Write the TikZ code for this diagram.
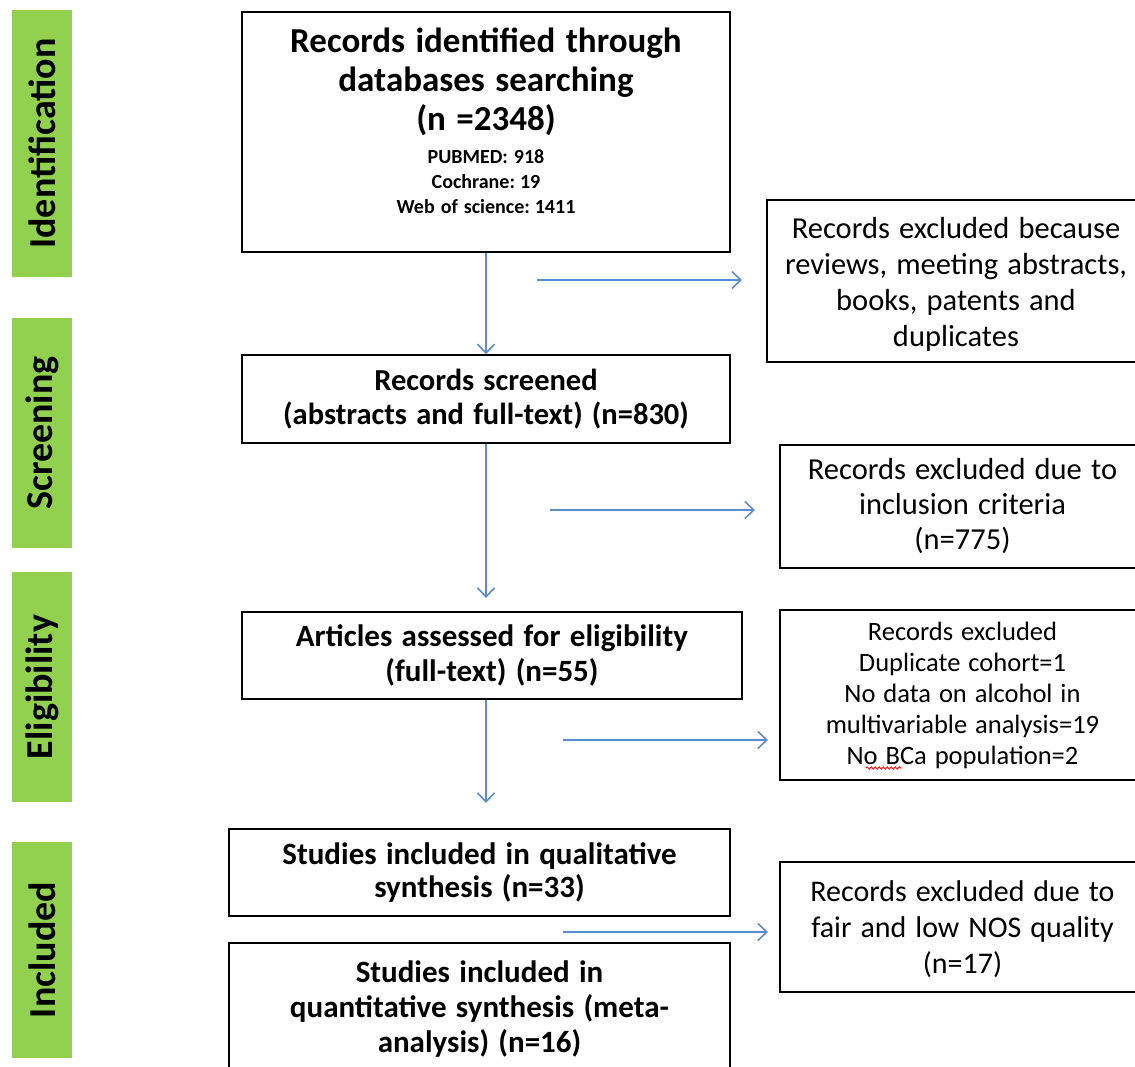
\documentclass[tikz,border=0pt]{standalone}
\usepackage{fontspec}
\setmainfont{Carlito}
\usetikzlibrary{arrows.meta, positioning, decorations.pathmorphing}

\definecolor{stagegreen}{HTML}{92D050}
\definecolor{flowblue}{HTML}{5B8BD0}

\newcommand\boxfont[2]{\fontsize{#1}{#2}\selectfont\spaceskip=0.3em\relax}

\tikzset{
  stage/.style={fill=stagegreen, rotate=90, minimum height=60pt, inner sep=0pt, font=\bfseries\fontsize{38}{42}\selectfont},
  flowbox/.style={draw, line width=1.5pt, align=center, inner sep=0pt, font=\bfseries},
  exclbox/.style={draw, line width=1.5pt, align=center, inner sep=0pt},
  flow/.style={draw=flowblue, line width=1.6pt, -{Straight Barb[length=9pt, width=17pt]}},
  spellwave/.style={draw=red, line width=0.8pt, decorate, decoration={snake, amplitude=1.2pt, segment length=4pt}}
}

\begin{document}
\begin{tikzpicture}[x=1pt, y=-1pt]
        \clip (0,0) rectangle (1135,1066);

        \node[stage, minimum width=267pt] (identification) at (42,143.5) {Identification};
        \node[stage, minimum width=230pt] (screening)      at (42,433)   {Screening};
        \node[stage, minimum width=230pt] (eligibility)    at (42,687)   {Eligibility};
        \node[stage, minimum width=216pt] (included)       at (42,950)   {Included};

        \node[flowbox, minimum width=488pt, minimum height=240pt, text width=470pt] (ident) at (486,132)
          {\boxfont{35}{39}Records identified through\\ databases searching\\ (n =2348)\par\vspace{8pt}
           \boxfont{20}{25}PUBMED: 918\\ Cochrane: 19\\ Web of science: 1411\rule[-22pt]{0pt}{22pt}\par};
        \node[flowbox, minimum width=488pt, minimum height=88pt, text width=470pt] (screen) at (486,399)
          {\boxfont{30.5}{34}Records screened\\ (abstracts and full-text) (n=830)\par};
        \node[flowbox, minimum width=500pt, minimum height=87pt, text width=480pt] (elig) at (492,655.5)
          {\boxfont{31}{35}Articles assessed for eligibility\\ (full-text) (n=55)\par};
        \node[flowbox, minimum width=501pt, minimum height=87pt, text width=480pt] (qual) at (479.5,872.5)
          {\boxfont{31}{33}Studies included in qualitative\\ synthesis (n=33)\par};
        \node[flowbox, minimum width=501pt, minimum height=132pt, text width=480pt] (quant) at (479.5,1009)
          {\boxfont{31}{35}Studies included in\\ quantitative synthesis (meta-\\ analysis) (n=16)\par};

        \node[exclbox, minimum width=378pt, minimum height=162pt, text width=366pt] (excl1) at (956,281)
          {\boxfont{30.5}{36}\rule{0pt}{28pt}Records excluded because\\ reviews, meeting abstracts,\\ books, patents and\\ duplicates\par};
        \node[exclbox, minimum width=365pt, minimum height=123pt, text width=355pt] (excl2) at (962.5,506.5)
          {\boxfont{30.5}{35}Records excluded due to\\ inclusion criteria\\ (n=775)\par};
        \node[exclbox, minimum width=365pt, minimum height=170pt, text width=355pt] (excl3) at (962.5,695)
          {\boxfont{26.5}{31}Records excluded\\ Duplicate cohort=1\\ No data on alcohol in\\ multivariable analysis=19\\ No BCa population=2\par};
        \node[exclbox, minimum width=365pt, minimum height=130pt, text width=355pt] (excl4) at (962.5,927)
          {\boxfont{30}{36}\rule{0pt}{26pt}Records excluded due to\\ fair and low NOS quality\\ (n=17)\par};

        \coordinate (eligin)  at (486,598);
        \coordinate (inclin)  at (486,803);
        \coordinate (h1start) at (537,280);
        \coordinate (h1end)   at (742,280);
        \coordinate (h2start) at (550,510);
        \coordinate (h2end)   at (755,510);
        \coordinate (h3start) at (563,740);
        \coordinate (h3end)   at (768,740);
        \coordinate (h4start) at (563,932);
        \coordinate (h4end)   at (768,932);
        \coordinate (wavestart) at (866,768);
        \coordinate (waveend)   at (902,768);

        \path
          (ident.south) edge[flow] (screen.north)
          (screen.south) edge[flow] (eligin)
          (screen.south |- elig.south) edge[flow] (inclin)
          (h1start) edge[flow] (h1end)
          (h2start) edge[flow] (h2end)
          (h3start) edge[flow] (h3end)
          (h4start) edge[flow] (h4end);
        \draw[spellwave] (wavestart) -- (waveend);
      \end{tikzpicture}
\end{document}
